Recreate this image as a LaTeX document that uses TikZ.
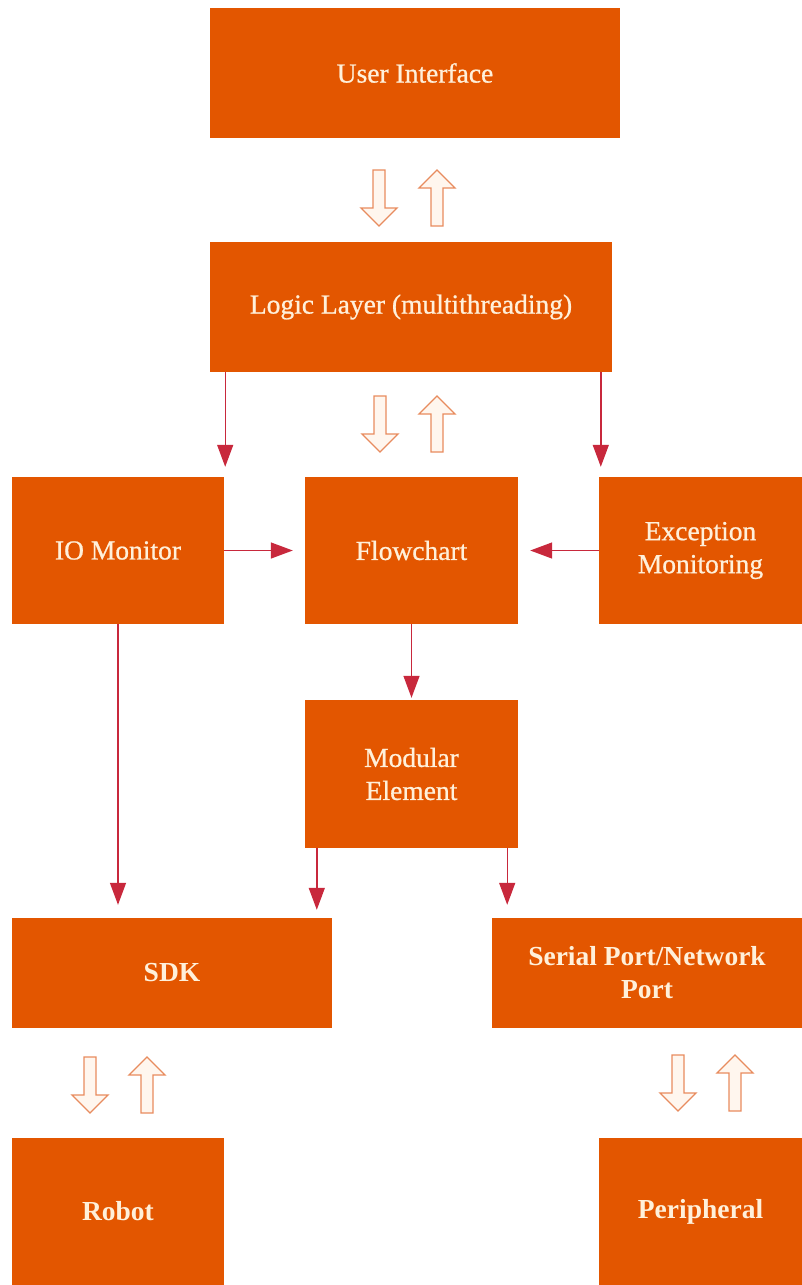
\documentclass[tikz,border=0pt]{standalone}
\usepackage{fontspec}
\setmainfont{Liberation Serif}
\newfontfamily\semifont[FakeBold=0.8]{Liberation Serif}
\usetikzlibrary{arrows.meta}
\definecolor{boxor}{RGB}{227,86,0}
\definecolor{txtc}{RGB}{255,240,218}
\definecolor{conn}{RGB}{200,40,60}
\definecolor{holl}{RGB}{232,140,95}
\definecolor{hollf}{RGB}{255,246,238}
\tikzset{
  box/.style={fill=boxor, draw=none, inner sep=0pt, text=txtc, align=center,
    font=\fontsize{27.5}{33}\selectfont\semifont},
  boxb/.style={box, font=\fontsize{27.5}{33}\selectfont\bfseries},
  connline/.style={draw=conn, line width=1.4pt, -{Triangle[width=16pt,length=22pt]}},
  hollow/.style={draw=holl, fill=hollf, line width=1.3pt, line join=miter},
  uparr/.pic={\path[hollow] (-6,28) -- (-6,-10) -- (-18,-10) -- (0,-28) -- (18,-10) -- (6,-10) -- (6,28) -- cycle;},
  downarr/.pic={\path[hollow] (-6,-28) -- (-6,10) -- (-18,10) -- (0,28) -- (18,10) -- (6,10) -- (6,-28) -- cycle;}
}
\begin{document}
\begin{tikzpicture}[x=1pt,y=-1pt]
\path[use as bounding box, fill=white] (0,0) rectangle (802,1285);
\node[box, minimum width=410, minimum height=130] (ui) at (415,73) {User Interface};
\node[box, minimum width=402, minimum height=130] (logic) at (411,307) {Logic Layer (multithreading)};
\node[box, minimum width=212, minimum height=147] (io) at (118,550.5) {IO Monitor};
\node[box, minimum width=213, minimum height=147] (flow) at (411.5,550.5) {Flowchart};
\node[box, minimum width=203, minimum height=147] (exc) at (700.5,550.5) {Exception\\Monitoring};
\node[box, minimum width=213, minimum height=148] (mod) at (411.5,774) {Modular\\Element};
\node[boxb, minimum width=320, minimum height=110] (sdk) at (172,973) {SDK};
\node[boxb, minimum width=310, minimum height=110] (ser) at (647,973) {Serial Port/Network\\Port};
\node[boxb, minimum width=212, minimum height=147] (robot) at (118,1211.5) {Robot};
\node[boxb, minimum width=203, minimum height=147] (peri) at (700.5,1211.5) {Peripheral};

\draw[connline, shorten >=10pt] ([xshift=1pt]logic.south -| io.north east) -- ([xshift=1pt]io.north east);
\draw[connline, shorten >=10pt] ([xshift=2pt]logic.south -| exc.north west) -- ([xshift=2pt]exc.north west);
\draw[connline, shorten >=12pt] (io.east) -- (flow.west);
\draw[connline, shorten >=12pt] (exc.west) -- (flow.east);
\draw[connline, shorten >=2pt] (flow.south) -- (mod.north);
\draw[connline, shorten >=13pt] (io.south) -- (io.south |- sdk.north);
\draw[connline, shorten >=8pt] ([xshift=12pt]mod.south west) -- ([xshift=12pt]mod.south west |- sdk.north);
\draw[connline, shorten >=13pt] ([xshift=-11pt]mod.south east) -- ([xshift=-11pt]mod.south east |- ser.north);

\pic at (379,198) {downarr};
\pic at (437,198) {uparr};
\pic at (380,424) {downarr};
\pic at (437,424) {uparr};
\pic at (90,1085) {downarr};
\pic at (147,1085) {uparr};
\pic at (678,1083) {downarr};
\pic at (735,1083) {uparr};
\end{tikzpicture}
\end{document}
